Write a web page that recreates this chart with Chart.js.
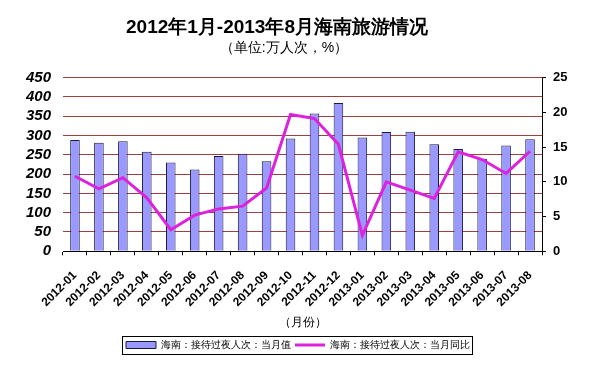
<!DOCTYPE html>
<html>
<head>
<meta charset="utf-8">
<script src="https://cdn.jsdelivr.net/npm/chart.js@4.4.1/dist/chart.umd.min.js"></script>
<style>
  html, body { margin: 0; padding: 0; background: #fff; }
  #wrap { width: 610px; height: 377px; }
</style>
</head>
<body>
<div id="wrap"><canvas id="hainan-chart"></canvas></div>
<script>
// data
const months = [
  "2012-01", "2012-02", "2012-03", "2012-04", "2012-05", "2012-06", "2012-07",
  "2012-08", "2012-09", "2012-10", "2012-11", "2012-12", "2013-01", "2013-02",
  "2013-03", "2013-04", "2013-05", "2013-06", "2013-07", "2013-08",
];
// 当月值 (万人次)
const monthlyValue = [
  288, 281, 285, 258, 230, 212, 247, 253, 233, 292,
  357, 384, 295, 309, 310, 277, 265, 240, 274, 290,
];
// 当月同比 (%)
const yoyGrowth = [
  10.8, 9.0, 10.6, 7.7, 3.1, 5.2, 6.1, 6.5, 9.1, 19.7,
  19.1, 15.4, 2.3, 10.0, 8.8, 7.6, 14.3, 13.2, 11.2, 14.4,
];
const leftTicks = [0, 50, 100, 150, 200, 250, 300, 350, 400, 450];
const rightTicks = [0, 5, 10, 15, 20, 25];

const FONT = "'Liberation Sans', Arial, sans-serif";

// move title and legend sideways, like the original
const shiftPlugin = {
  id: "shiftBlocks",
  afterLayout(chart) {
    const move = (box, dx) => { if (box) { box.left += dx; box.right += dx; } };
    move(chart.titleBlock, -7);
    move(chart.subtitleBlock, -7);
    move(chart.legend, 14);
  },
};

// frame round the legend
const legendFrame = {
  id: "legendFrame",
  afterDraw(chart) {
    const boxes = chart.legend && chart.legend.legendHitBoxes;
    if (!boxes || !boxes.length) return;
    const left = Math.min(...boxes.map((b) => b.left)) - 4;
    const right = Math.max(...boxes.map((b) => b.left + b.width)) + 2;
    const top = Math.min(...boxes.map((b) => b.top)) - 4;
    const bottom = Math.max(...boxes.map((b) => b.top + b.height)) + 4;
    const ctx = chart.ctx;
    ctx.save();
    ctx.strokeStyle = "#000";
    ctx.lineWidth = 1;
    ctx.strokeRect(Math.round(left) + 0.5, Math.round(top) + 0.5,
      Math.round(right - left), Math.round(bottom - top));
    ctx.restore();
  },
};

new Chart(document.getElementById("hainan-chart").getContext("2d"), {
  data: {
    labels: months,
    datasets: [
      {
        type: "line",
        label: "海南：接待过夜人次：当月同比",
        data: yoyGrowth,
        yAxisID: "y1",
        borderColor: "#dd22dd",
        backgroundColor: "#dd22dd",
        borderWidth: 3,
        pointRadius: 0,
        pointStyle: "line",
        tension: 0,
        order: 0,
      },
      {
        type: "bar",
        label: "海南：接待过夜人次：当月值",
        data: monthlyValue,
        yAxisID: "y",
        backgroundColor: "#9999ff",
        borderColor: "#1a1a40",
        borderWidth: 1,
        pointStyle: "rect",
        barPercentage: 0.4,
        categoryPercentage: 1,
        order: 1,
      },
    ],
  },
  options: {
    responsive: true,
    maintainAspectRatio: false,
    animation: false,
    layout: { padding: { left: 0, right: 42, top: 16, bottom: 17 } },
    plugins: {
      title: {
        display: true,
        text: "2012年1月-2013年8月海南旅游情况",
        color: "#000",
        font: { family: FONT, size: 19, weight: "bold" },
        padding: { top: 0, bottom: 1 },
      },
      subtitle: {
        display: true,
        text: "（单位:万人次，%）",
        color: "#000",
        font: { family: FONT, size: 14 },
        padding: { top: 0, bottom: 21 },
      },
      legend: {
        position: "bottom",
        reverse: true,
        labels: {
          usePointStyle: true,
          pointStyleWidth: 30,
          boxHeight: 7,
          padding: 4,
          color: "#000",
          font: { family: FONT, size: 10 },
        },
      },
      tooltip: { enabled: false },
    },
    scales: {
      x: {
        afterFit: (s) => { s.height -= 11; },
        grid: {
          drawOnChartArea: false,
          offset: true,
          tickLength: 4,
          color: "#000",
        },
        border: { color: "#000", width: 1 },
        ticks: {
          maxRotation: 45,
          minRotation: 45,
          autoSkip: false,
          color: "#000",
          padding: 13,
          font: { family: FONT, size: 12, weight: "bold" },
        },
        title: {
          display: true,
          text: "（月份）",
          color: "#000",
          font: { family: FONT, size: 12 },
          padding: { top: 4, bottom: 6 },
        },
      },
      y: {
        position: "left",
        min: 0,
        max: 450,
        afterBuildTicks: (s) => { s.ticks = leftTicks.map((v) => ({ value: v })); },
        afterFit: (s) => { s.width = 63; },
        grid: { color: "#a0403c", lineWidth: 1, drawTicks: false },
        border: { display: false },
        ticks: {
          autoSkip: false,
          color: "#000",
          padding: 12,
          font: { family: FONT, size: 15, weight: "bold", style: "italic" },
        },
      },
      y1: {
        position: "right",
        min: 0,
        max: 25,
        afterBuildTicks: (s) => { s.ticks = rightTicks.map((v) => ({ value: v })); },
        afterFit: (s) => { s.width = 26; },
        grid: { drawOnChartArea: false, tickLength: 4, color: "#000" },
        border: { color: "#000", width: 1 },
        ticks: {
          autoSkip: false,
          color: "#000",
          padding: 7,
          font: { family: FONT, size: 13, weight: "bold" },
        },
      },
    },
  },
  plugins: [shiftPlugin, legendFrame],
});
</script>
</body>
</html>
